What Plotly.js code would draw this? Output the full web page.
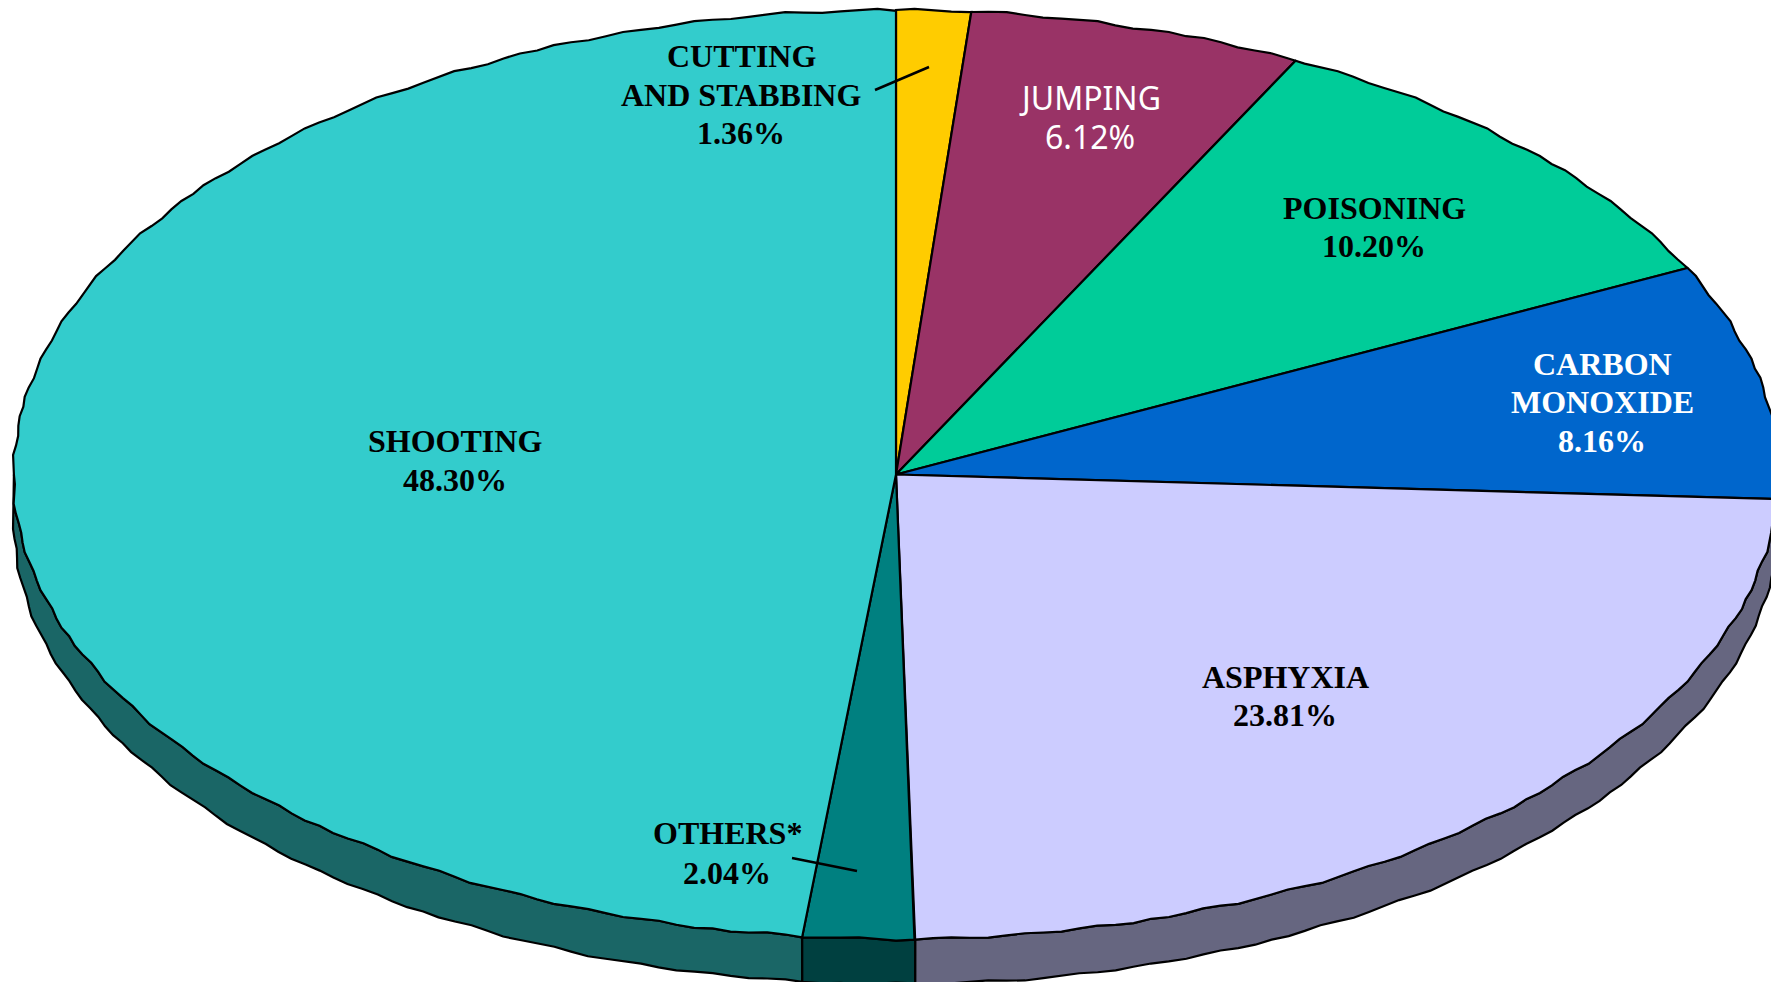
<!DOCTYPE html>
<html>
<head>
<meta charset="utf-8">
<script src="https://cdn.plot.ly/plotly-3.0.1.min.js"></script>
<style>html,body{margin:0;padding:0;background:#fff;overflow:hidden}#chart{width:1771px;height:982px}</style>
</head>
<body>
<div id="chart"></div>
<script>
const categories = ["CUTTING AND STABBING","JUMPING","POISONING","CARBON MONOXIDE","ASPHYXIA","OTHERS*","SHOOTING"];
const percentValues = [1.36,6.12,10.20,8.16,23.81,2.04,48.30];
const topColors = ["#FFCC00","#993366","#00CC99","#0066CC","#CCCCFF","#008080","#33CCCC"];
const wallColors = ["#806600","#4D1A33","#00664D","#003366","#666680","#004040","#1A6666"];

const labelLines = [
  ["CUTTING","AND STABBING","1.36%"],["JUMPING","6.12%"],["POISONING","10.20%"],
  ["CARBON","MONOXIDE","8.16%"],["ASPHYXIA","23.81%"],["OTHERS*","2.04%"],["SHOOTING","48.30%"]
];
const labelX = [741,1090,1374,1602,1285,727,455];
const labelY = [[56,95,133],[97,136],[208,246],[364,402,441],[677,715],[833,873],[441,480]];
const labelColors = ["#000","#fff","#000","#fff","#000","#000","#000"];
const labelFonts = ["Liberation Serif","Noto Sans","Liberation Serif","Liberation Serif","Liberation Serif","Liberation Serif","Liberation Serif"];
const leaders = [[875,90,929,67],[792,858,857,871]];
// hand-drawn look of the outline: small offsets in pixels along the rim
const rimWobble = [0,1.2,0.4,-0.8,-0.4,0.8,1.6,0,-1.2,-0.4,0.4,1.2,-0.8,-1.6,0,0.8,-0.4,1.2,0.4,-1.2,-0.4,0.8,0,-0.8];

const cx = 896, cy = 474.5, rx = 882.5, ry = 464.5, depth = 45, step = 1.2;
const total = percentValues.reduce((a,b)=>a+b,0);
const rad = d => d*Math.PI/180;
function wobble(a){
  const n=rimWobble.length, p=a/step, k=Math.floor(p), f=p-k;
  return rimWobble[k%n]*(1-f)+rimWobble[(k+1)%n]*f;
}
function rimPoint(a,dy,shift){
  const w=wobble(a+shift), t=rad(a);
  return [cx+(rx+w)*Math.sin(t), cy-(ry+w)*Math.cos(t)+dy];
}
function arc(a0,a1,dy,shift){
  const angles=[a0];
  for(let k=Math.floor(a0/step)+1;k*step<a1;k++) angles.push(k*step);
  angles.push(a1);
  return angles.map(a=>rimPoint(a,dy,shift));
}
const traces=[]; const wedges=[]; let cum=0;
percentValues.forEach((v)=>{
  const a0=cum/total*360; cum+=v; const a1=cum/total*360;
  wedges.push([a0,a1]);
});
const line={color:"#000",width:2.2};
// side wall: only the lower half of the ellipse is visible
wedges.forEach(([a0,a1],i)=>{
  const s=Math.max(a0,90), e=Math.min(a1,270);
  if(e<=s) return;
  const top=arc(s,e,0,0), bot=arc(s,e,depth,37).reverse();
  const p=top.concat(bot); p.push(top[0]);
  traces.push({x:p.map(q=>q[0]),y:p.map(q=>q[1]),mode:"lines",fill:"toself",fillcolor:wallColors[i],line,name:categories[i],hoverinfo:"name"});
});
// top face
wedges.forEach(([a0,a1],i)=>{
  const p=[[cx,cy]].concat(arc(a0,a1,0,0)); p.push([cx,cy]);
  traces.push({x:p.map(q=>q[0]),y:p.map(q=>q[1]),mode:"lines",fill:"toself",fillcolor:topColors[i],line,name:categories[i],hoverinfo:"name"});
});
// leader lines
leaders.forEach(l=>traces.push({x:[l[0],l[2]],y:[l[1],l[3]],mode:"lines",line:{color:"#000",width:2.5},hoverinfo:"skip"}));

const annotations=[];
labelLines.forEach((lines,i)=>lines.forEach((t,j)=>annotations.push({
  x:labelX[i],y:labelY[i][j],xref:"x",yref:"y",text:labelFonts[i]==="Noto Sans"?t:"<b>"+t+"</b>",showarrow:false,
  xanchor:"center",yanchor:"middle",
  font:{family:labelFonts[i],size:32,color:labelColors[i]}
})));

Plotly.newPlot("chart",traces,{
  width:1771,height:982,margin:{l:0,r:0,t:0,b:0},paper_bgcolor:"#fff",plot_bgcolor:"#fff",showlegend:false,
  xaxis:{range:[0,1771],visible:false,fixedrange:true},
  yaxis:{range:[982,0],visible:false,fixedrange:true},
  annotations
},{displayModeBar:false});
</script>
</body>
</html>
